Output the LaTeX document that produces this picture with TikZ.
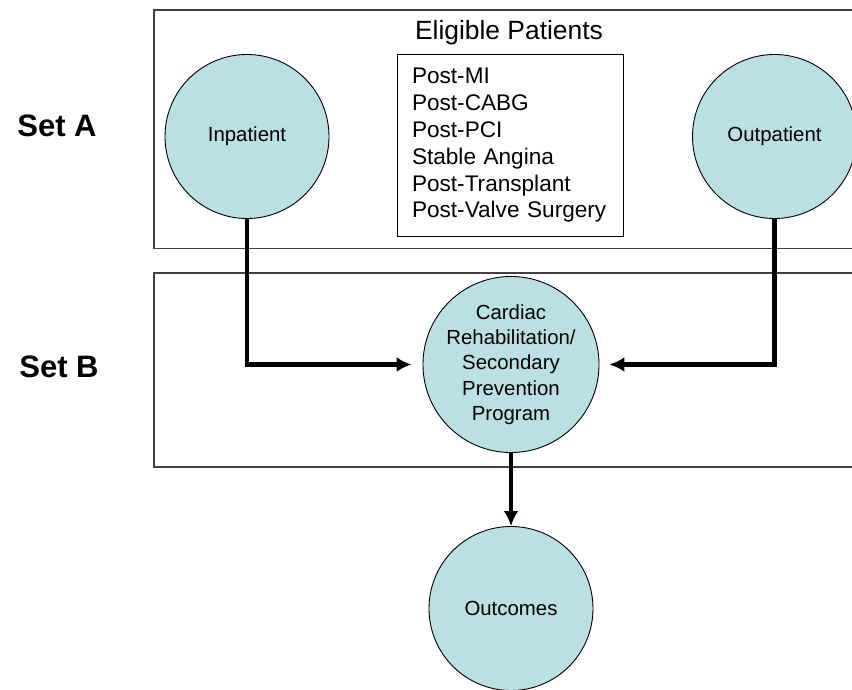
\documentclass[tikz,border=0pt]{standalone}
\usepackage{fontspec}
\setmainfont{Liberation Sans}
\usetikzlibrary{arrows.meta}

\begin{document}
\begin{tikzpicture}[x=1pt,y=-1pt,>={Latex[length=15pt,width=15pt]}]

% Colors
\definecolor{circfill}{RGB}{186,224,228}
\definecolor{boxdraw}{RGB}{64,64,64}

% Styles
\tikzset{
  setbox/.style={
    rectangle,
    draw=boxdraw,
    line width=1.4pt,
    inner sep=0pt
  },
  stage/.style={
    circle,
    draw=black,
    fill=circfill,
    line width=0.9pt,
    minimum size=164pt,
    inner sep=0pt,
    align=center,
    font=\fontsize{20.4}{25.3}\selectfont
  },
  setlabel/.style={
    font=\bfseries\fontsize{31}{35}\selectfont
  },
  flow/.style={
    ->,
    line width=4.5pt,
    draw=black
  }
}

% Page
\clip (0,0) rectangle (852,690);
\fill[white] (0,0) rectangle (852,690);

% Set boxes
\node[setbox, minimum width=716pt, minimum height=238.5pt] (boxA) at (512,129.25) {};
\node[setbox, minimum width=716pt, minimum height=194pt] (boxB) at (512,370) {};

% Set labels
\node[setlabel] (setA) at (57,126) {Set A};
\node[setlabel] (setB) at (59,367) {Set B};

% Eligible patients
\node[font=\fontsize{26.4}{30}\selectfont] (elig) at (509,33) {Eligible Patients};
\node[
  rectangle,
  draw=black,
  line width=1pt,
  minimum width=226pt,
  minimum height=181pt,
  text width=196pt,
  inner xsep=15pt,
  align=left,
  font=\fontsize{22.6}{26.8}\selectfont
] (groups) at (510,145.5) {Post-MI\\Post-CABG\\Post-PCI\\Stable Angina\\Post-Transplant\\Post-Valve Surgery};

% Circles
\node[stage] (inpat) at (247,136.5) {Inpatient};
\node[stage] (outpat) at (774.5,136.5) {Outpatient};
\node[stage] (crp) at (511,364.5) {Cardiac\\Rehabilitation/\\Secondary\\Prevention\\Program};
\node[stage] (outcomes) at (511,608.5) {Outcomes};

% Arrows
\draw[flow, shorten >=11pt] (inpat.south) |- (crp.west);
\draw[flow, shorten >=10pt] (outpat.south) |- (crp.east);
\draw[flow] (crp.south) -- (outcomes.north);

\end{tikzpicture}
\end{document}
